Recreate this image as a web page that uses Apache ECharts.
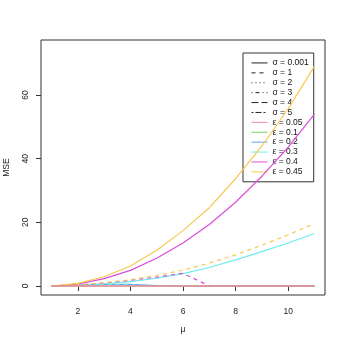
<!DOCTYPE html>
<html><head><meta charset="utf-8">
<script src="https://cdn.jsdelivr.net/npm/echarts@6/dist/echarts.min.js"></script>
<style>html,body{margin:0;padding:0;background:#fff}#c{width:346px;height:346px}</style>
</head><body><div id="c"></div>
<script>
var mu = [1,2,3,4,5,6,7,8,9,10,11];
var xTicks = [2,4,6,8,10];
var yTicks = [0,20,40,60];
var sigmaLabels = ['σ = 0.001','σ = 1','σ = 2','σ = 3','σ = 4','σ = 5'];
var epsLabels = ['ε = 0.05','ε = 0.1','ε = 0.2','ε = 0.3','ε = 0.4','ε = 0.45'];
// MSE readings (sigma, eps)
var e045_s0 = [0, 0.8, 2.9, 6.3, 11.2, 17.4, 24.6, 33.7, 44.0, 55.7, 69.1];
var e045_s1 = [0, 0.4, 1.0, 2.0, 3.3, 5.0, 7.2, 9.8, 12.8, 16.1, 19.6];
var e04_s0  = [0, 0.6, 2.3, 4.9, 8.7, 13.5, 19.3, 26.3, 34.5, 43.6, 54.0];
var e04_s1  = [0, 0.3, 0.9, 1.8, 2.8, 4.0, 0, 0, 0, 0, 0];
var e03_s0  = [0, 0.2, 0.7, 1.4, 2.5, 3.9, 5.8, 8.2, 10.8, 13.5, 16.5];
var e03_s1  = [0, 0.2, 0.5, 0.3, 0, 0, 0, 0, 0, 0, 0];
var e02_s0  = [0, 0.3, 0.5, 0.5, 0.1, 0, 0, 0, 0, 0, 0];
var e01_s0  = [0, 0, 0, 0, 0, 0, 0, 0, 0, 0, 0];
var e005_s0 = [0, 0, 0, 0, 0, 0, 0, 0, 0, 0, 0];

var epsColors = ['#f2869c','#72d85e','#5aa8ee','#6eecec','#dd4cdd','#f6c94c'];
var dashTypes = ['solid',[4,4],[1,3],[1,3,4,3],[7,3],[2,2,6,2]];

function pts(a){ return mu.map(function(x,i){ return [x,a[i]]; }); }
function ser(name,data,color,dash,w){
  return {name:name,type:'line',data:pts(data),symbol:'none',silent:true,animation:false,
    lineStyle:{color:color,type:dash,width:w||1.2},z:5};
}
var series = [
  ser('d1',e02_s0,epsColors[2],'solid'),
  ser('d2',e03_s1,epsColors[3],[4,4]),
  ser('d3',e03_s0,epsColors[3],'solid'),
  ser('d4',e04_s1,epsColors[4],[4,4]),
  ser('d5',e04_s0,epsColors[4],'solid'),
  ser('d6',e045_s1,epsColors[5],[4,4]),
  ser('d7',e045_s0,epsColors[5],'solid'),
  ser('d8',e01_s0,epsColors[1],'solid'),
  ser('d9',e005_s0,epsColors[0],'solid',1.5)
];
var legendNames = [];
sigmaLabels.forEach(function(n,i){
  legendNames.push(n);
  series.push({name:n,type:'line',data:[],symbol:'none',lineStyle:{color:'#222',type:dashTypes[i],width:1},itemStyle:{color:'#222'}});
});
epsLabels.forEach(function(n,i){
  legendNames.push(n);
  series.push({name:n,type:'line',data:[],symbol:'none',lineStyle:{color:epsColors[i],type:'solid',width:1},itemStyle:{color:epsColors[i]}});
});

var font = '"Liberation Sans Narrow", "Liberation Sans", Arial, sans-serif';
var chart = echarts.init(document.getElementById('c'));
chart.setOption({
  backgroundColor:'#fff',
  animation:false,
  grid:{left:41,right:21,top:40,bottom:51,show:true,borderColor:'#333',borderWidth:1,backgroundColor:'transparent',
    containLabel:false,outerBoundsMode:'none'},
  legend:{data:legendNames,orient:'vertical',left:243,top:53,itemWidth:16,itemHeight:8,itemGap:0,z:1,
    padding:[5,5,5,8],backgroundColor:'#fff',borderColor:'#333',borderWidth:1,borderRadius:0,
    itemStyle:{color:'rgba(0,0,0,0)',borderColor:'rgba(0,0,0,0)',borderWidth:0},
    lineStyle:{width:1},
    selectedMode:false,textStyle:{fontSize:8.5,lineHeight:9.9,color:'#111',fontFamily:font}},
  xAxis:{type:'value',min:0.6,max:11.4,splitLine:{show:false},axisLine:{show:false},
    axisTick:{show:true,length:5,customValues:xTicks,lineStyle:{color:'#333'}},
    axisLabel:{customValues:xTicks,fontSize:8.5,color:'#222',margin:12,fontFamily:font},
    name:'μ',nameLocation:'middle',nameGap:30,nameTextStyle:{fontSize:8.5,color:'#222',fontFamily:font}},
  yAxis:{type:'value',min:-2.83,max:77.3,splitLine:{show:false},axisLine:{show:false},
    axisTick:{show:true,length:5,customValues:yTicks,lineStyle:{color:'#333'}},
    axisLabel:{customValues:yTicks,fontSize:8.5,color:'#222',rotate:90,margin:11,fontFamily:font},
    name:'MSE',nameLocation:'middle',nameGap:30,nameRotate:90,nameTextStyle:{fontSize:8.5,color:'#222',fontFamily:font}},
  series:series
});
</script></body></html>
